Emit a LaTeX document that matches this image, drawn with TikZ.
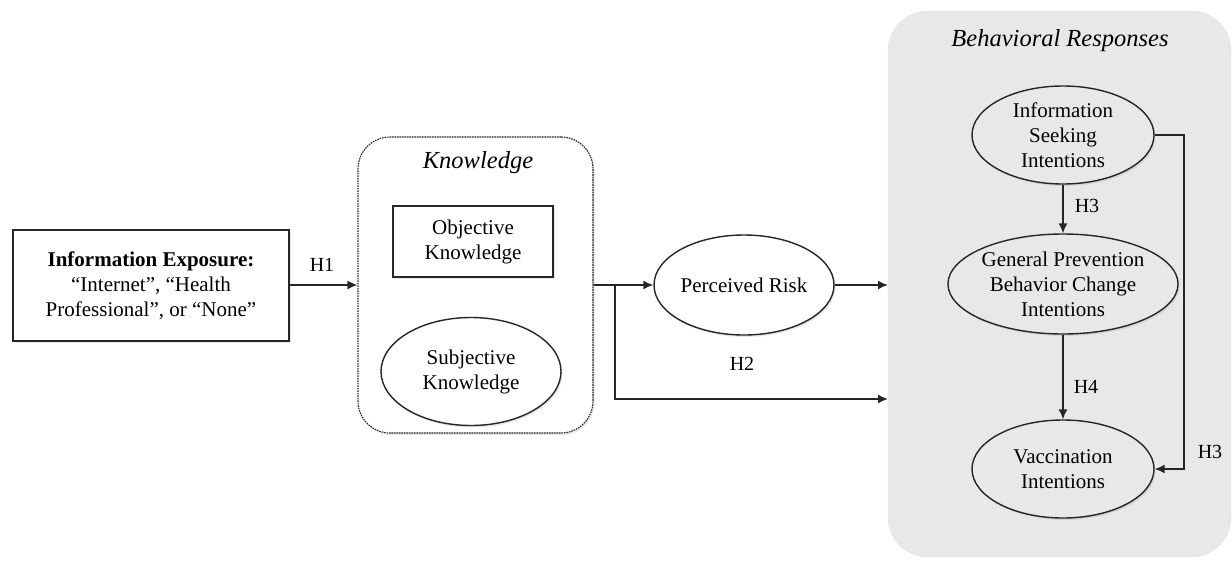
\documentclass[tikz,border=0pt]{standalone}
\usepackage{fontspec}
\setmainfont{Liberation Serif}
\usetikzlibrary{shapes.geometric,arrows.meta,shadows}
\begin{document}
\begin{tikzpicture}[x=1pt,y=-1pt,
  txt/.style={font=\fontsize{21}{25}\selectfont, align=center},
  ttl/.style={font=\fontsize{24.5}{28}\selectfont\itshape},
  shd/.style={drop shadow={opacity=0.18, shadow xshift=1.5pt, shadow yshift=-2pt}},
  boxnode/.style={txt, draw=black!85, line width=1.4pt, fill=white, inner sep=0pt, shd},
  ell/.style={txt, ellipse, draw=black!85, line width=1.4pt, inner sep=0pt, shd},
  arr/.style={line width=1.6pt, draw=black!85, -{Latex[length=10pt,width=9pt]}},
  lab/.style={font=\fontsize{20}{24}\selectfont}
]
\useasboundingbox (0,0) rectangle (1232,560);

% Behavioral Responses group
\node[draw=black!12, fill=black!9, rounded corners=40pt, minimum width=343pt, minimum height=546pt, inner sep=0pt] (beh) at (1059.5,284) {};
\node[ttl] (behtitle) at (1060,41) {Behavioral Responses};

% Knowledge group
\node[draw=black!85, line width=1.1pt, dash pattern=on 1.6pt off 0.9pt, rounded corners=32pt, fill=white, minimum width=235pt, minimum height=296pt, inner sep=0pt, shd] (know) at (475.5,285) {};
\node[ttl] (knowtitle) at (478,163) {Knowledge};

% Information exposure
\node[boxnode, minimum width=276pt, minimum height=111pt] (info) at (151,285.5)
  {\textbf{Information Exposure:}\\``Internet'', ``Health\\Professional'', or ``None''};

\node[boxnode, minimum width=160pt, minimum height=71pt] (obj) at (473,241.5) {Objective\\Knowledge};
\node[ell, fill=white, minimum width=180pt, minimum height=108pt] (subj) at (471,371.5) {Subjective\\Knowledge};

\node[ell, fill=white, minimum width=180pt, minimum height=100pt] (pr) at (744,285) {Perceived Risk};

\node[ell, fill=black!9, minimum width=182pt, minimum height=98pt] (is) at (1063,135) {Information\\Seeking\\Intentions};
\node[ell, fill=black!9, minimum width=182pt, minimum height=100pt] (gp) at (1063,284) {General Prevention\\Behavior Change\\Intentions};
\node[ell, fill=black!9, minimum width=182pt, minimum height=98pt] (vac) at (1063,469) {Vaccination\\Intentions};

% connectors
\draw[arr] (info.east |- 0,285) -- (know.west |- 0,285);
\node[lab] (h1) at (322,265) {H1};

\draw[arr] (know.east |- pr.west) -- (pr.west);
\coordinate (br) at (615,285);
\coordinate (h2end) at (888,399);
\draw[arr] (br) |- (h2end);
\node[lab] (h2) at (742,364) {H2};

\coordinate (prend) at (888,285);
\draw[arr] (pr.east) -- (prend);

\draw[arr] (is.south) -- (gp.north);
\node[lab] (h3a) at (1087,206) {H3};
\draw[arr] (gp.south) -- (vac.north);
\node[lab] (h4) at (1086,387) {H4};

\coordinate (rt) at (1184,135);
\draw[arr] (is.east) -- (rt) |- (vac.east);
\node[lab] (h3b) at (1210,452) {H3};

\end{tikzpicture}
\end{document}
